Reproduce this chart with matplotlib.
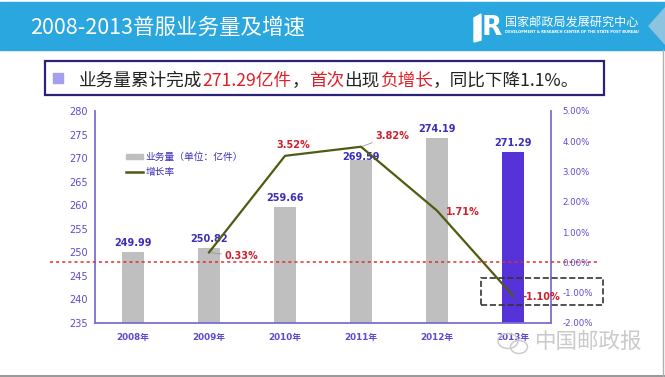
import numpy as np
import matplotlib
matplotlib.use('Agg')
import matplotlib.pyplot as plt
from matplotlib.patches import Rectangle, Polygon, Ellipse, Patch
from matplotlib.lines import Line2D

plt.rcParams['font.family'] = ['DejaVu Sans', 'Noto Sans CJK SC']
CJK = ['Noto Sans CJK SC', 'DejaVu Sans']

# data
years = ['2008年', '2009年', '2010年', '2011年', '2012年', '2013年']
volume = [249.99, 250.82, 259.66, 269.59, 274.19, 271.29]
growth = [0.33, 3.52, 3.82, 1.71, -1.10]          # 2009-2013
vol_ticks = list(range(235, 281, 5))
pct_ticks = list(range(-2, 6))
legend_labels = ['业务量（单位：亿件）', '增长率']
title = '2008-2013普服业务量及增速'
summary = [('业务量累计完成', 'k'), ('271.29亿件', 'r'), ('，', 'k'), ('首次', 'r'),
           ('出现', 'k'), ('负增长', 'r'), ('，同比下降1.1%。', 'k')]

# label nudges (pixels)
vol_dy = [9, 9, 9, 3, 9, 9]
growth_off = [(32, -4), (8, 11), (31, 11), (26, -1), (28, -1)]

PURPLE = '#5b4bd0'
NAVY = '#3b2fb8'
RED = '#d0202a'
OLIVE = '#4e5b13'
GRAY = '#bfbfbf'
HILITE = '#5533d8'

W, H = 665, 377
fig = plt.figure(figsize=(W / 100, H / 100), dpi=100)

# slide background in pixel coords
bg = fig.add_axes([0, 0, 1, 1])
bg.set_xlim(0, W)
bg.set_ylim(H, 0)
bg.axis('off')
bg.add_patch(Rectangle((0, 2), W, 48, color='#2aa7de'))
bg.add_patch(Polygon([(665, 8), (649, 26), (665, 44)], color='#8cc4df'))
bg.text(30, 28, title, fontsize=15.5, color='white', va='center', family=CJK)

# logo
bg.add_patch(Polygon([(474, 18), (481, 14), (481, 40), (474, 42)], color='white'))
bg.text(482, 28, 'R', fontsize=19, weight='bold', color='white', va='center')
bg.text(505, 22, '国家邮政局发展研究中心', fontsize=8.7, color='white', va='center', family=CJK)
bg.text(505, 32, 'DEVELOPMENT & RESEARCH CENTER OF THE STATE POST BUREAU',
        fontsize=2.6, color='white', va='center', weight='bold')

# summary box
bg.add_patch(Rectangle((45, 61), 559, 34, facecolor='white', edgecolor='#2b2277', lw=1.6))
bg.add_patch(Rectangle((53, 73), 10, 10, color='#a59ff0'))
prev = bg.text(79, 86, summary[0][0], fontsize=12.7, color='#222222', va='baseline', family=CJK)
for txt, c in summary[1:]:
    prev = bg.annotate(txt, xy=(1, 0), xycoords=prev, va='bottom', ha='left',
                       fontsize=12.7, family=CJK,
                       color='#e0202a' if c == 'r' else '#222222')

# frame lines
bg.plot([0, W], [376, 376], color='#9a9a9a', lw=1.5)
bg.plot([663, 663], [50, 376], color='#b0b0b0', lw=1)

# main chart
ax = fig.add_axes([95 / W, 1 - 323 / H, 456 / W, 212 / H])
ax.patch.set_alpha(0)
x = np.arange(len(years))
colors = [GRAY] * (len(years) - 1) + [HILITE]
ax.bar(x, volume, width=0.3, color=colors, zorder=2)
ax.set_xlim(-0.5, len(years) - 0.5)
ax.set_ylim(vol_ticks[0], vol_ticks[-1])
ax.set_yticks(vol_ticks)
ax.set_xticks(x)
ax.set_xticklabels(years, weight='bold')
ax.tick_params(axis='y', length=0, pad=5, labelsize=7, labelcolor=PURPLE)
ax.tick_params(axis='x', length=0, pad=7, labelsize=6.3, labelcolor=PURPLE)
for s in ['top', 'right']:
    ax.spines[s].set_visible(False)
for s in ['left', 'bottom']:
    ax.spines[s].set_color('#7a6fd0')
    ax.spines[s].set_linewidth(1.3)

for xi, v, dy in zip(x, volume, vol_dy):
    ax.annotate(f'{v:.2f}', (xi, v), xytext=(0, dy), textcoords='offset pixels',
                ha='center', va='center', fontsize=7, weight='bold', color=NAVY, zorder=5)

ax2 = ax.twinx()
ax2.set_ylim(pct_ticks[0], pct_ticks[-1])
ax2.set_yticks(pct_ticks)
ax2.set_yticklabels([f'{v:.2f}%' for v in pct_ticks])
ax2.tick_params(axis='y', length=0, pad=8, labelsize=6.2, labelcolor=PURPLE)
for s in ['top', 'left', 'bottom']:
    ax2.spines[s].set_visible(False)
ax2.spines['right'].set_color('#7a6fd0')
ax2.spines['right'].set_linewidth(1.3)

ax2.plot(x[1:], growth, color=OLIVE, lw=1.6, zorder=3)
for i, (xi, g, off) in enumerate(zip(x[1:], growth, growth_off)):
    lead = dict(arrowstyle='-', color='#9a9a9a', lw=0.6, shrinkA=0, shrinkB=1) if i in (0, 2) else None
    ax2.annotate(f'{g:.2f}%', (xi, g), xytext=off, textcoords='offset pixels',
                 ha='center', va='center', fontsize=7, weight='bold', color=RED,
                 arrowprops=lead, zorder=5)

ax2.axhline(0, xmin=-0.099, xmax=1.101, clip_on=False, color='#e03030',
            ls=(0, (2, 2)), lw=1.1, zorder=4)
ax2.add_patch(Rectangle((4.58, -1.405), 1.605, 0.89, fill=False, ls='--',
                        ec='#333333', lw=1.2, clip_on=False, zorder=4))

handles = [Patch(color=GRAY), Line2D([], [], color=OLIVE, lw=1.8)]
ax2.legend(handles, legend_labels, loc='upper left', bbox_to_anchor=(0.058, 0.83),
           frameon=False, prop={'family': CJK, 'size': 7}, labelcolor=NAVY,
           handlelength=1.7, handleheight=0.5, handletextpad=0.3, labelspacing=0.5,
           borderpad=0)

# watermark
fig.text(535 / W, 1 - 342 / H, '中国邮政报', fontsize=15.5, color='#cacaca',
         va='center', family=CJK, weight='light')
fig.add_artist(Ellipse((508 / W, 1 - 341 / H), 20 / W, 15 / H, fill=False,
                       ec='#cccccc', lw=1.1, transform=fig.transFigure))
fig.add_artist(Ellipse((519 / W, 1 - 347 / H), 17 / W, 13 / H, fill=False,
                       ec='#cccccc', lw=1.1, transform=fig.transFigure))

fig.savefig('out.png', dpi=100)
